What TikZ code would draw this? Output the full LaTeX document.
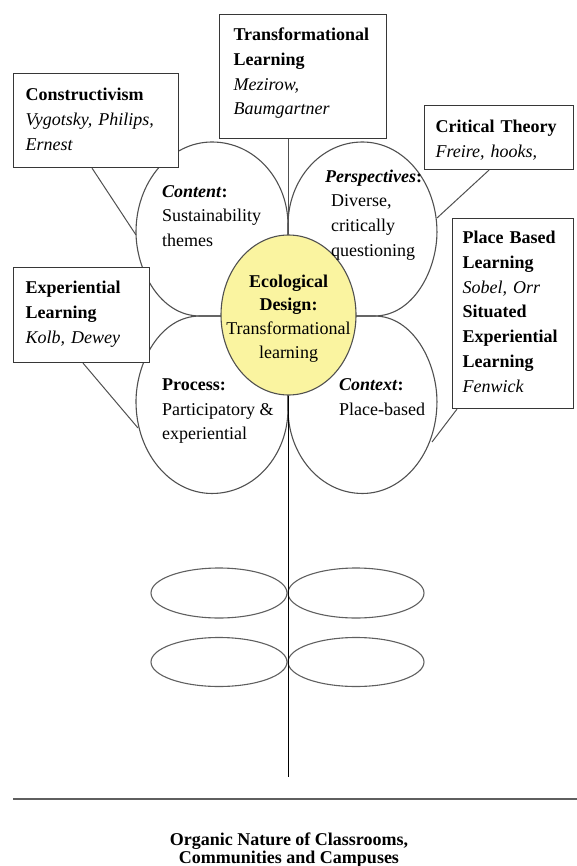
\documentclass[tikz,border=0pt]{standalone}
\usepackage{fontspec}
\setmainfont{Liberation Serif}
\usetikzlibrary{shapes.geometric,calc}
\definecolor{petalgray}{RGB}{80,80,80}
\definecolor{boxgray}{RGB}{55,55,55}
\definecolor{leafgray}{RGB}{95,95,95}
\definecolor{ecoyellow}{RGB}{250,244,160}
\newcommand{\txtfont}{\fontsize{18}{24.8}\selectfont}
\newcommand{\bxtop}[1]{\rule{0pt}{#1pt}}
\newcommand{\bxbot}[1]{\rule[-#1pt]{0pt}{#1pt}}
\begin{document}
\begin{tikzpicture}[x=1pt,y=-1pt,
  petalline/.style={draw=petalgray,line width=1.1pt},
  petal/.pic={\draw[petalline] (0,0) -- (-88,0) .. controls (-128,0) and (-152,-46) .. (-152,-84) .. controls (-152,-134) and (-118,-174) .. (-76,-174) .. controls (-33,-174) and (0,-136) .. (0,-91) -- cycle;},
  tbox/.style={draw=boxgray,fill=white,line width=1.1pt,anchor=north west,inner ysep=0pt,align=left,font=\txtfont},
  ptext/.style={anchor=north west,inner sep=0pt,align=left,font=\txtfont},
  conn/.style={draw=petalgray,line width=1pt},
  leaf/.style={ellipse,draw=leafgray,line width=1.1pt,minimum width=136pt,minimum height=50pt,inner sep=0pt},
  stemline/.style={draw=black,line width=1.8pt}
]
\useasboundingbox (0,0) rectangle (577,866);

% petals
\pic at (288,316) {petal};
\pic[xscale=-0.98] at (288,316) {petal};
\pic[yscale=-1.02] at (288,316) {petal};
\pic[xscale=-0.98,yscale=-1.02] at (288,316) {petal};

% centre
\node[ellipse,draw=petalgray,fill=ecoyellow,line width=1.1pt,minimum width=135pt,minimum height=160pt,inner sep=0pt] (eco) at (288.5,315) {};
\node[font=\fontsize{18}{23.7}\selectfont,align=center,anchor=north,inner sep=0pt] (ecotext) at (288.5,273) {\bxtop{14}\textbf{Ecological}\\\textbf{Design:}\\Transformational\\learning};

% petal texts
\node[ptext] (content) at (162,183) {\bxtop{14}\textbf{\textit{Content}:}\\Sustainability\\themes};
\node[ptext] (persp) at (325,168) {\bxtop{14}\textbf{\textit{Perspectives}:}\\\hspace*{6pt}Diverse,\\\hspace*{6pt}critically\\\hspace*{6pt}questioning};
\node[ptext] (process) at (162,376) {\bxtop{14}\textbf{Process:}\\Participatory \&\\experiential};
\node[ptext] (context) at (339,376) {\bxtop{14}\textbf{\textit{Context}:}\\Place-based};

% boxes
\node[tbox,inner xsep=12pt,text width=141pt] (cons) at (13,73) {\bxtop{27}\textbf{Constructivism}\\\textit{Vygotsky, Philips,}\\\textit{Ernest}\bxbot{17.4}};
\node[tbox,inner xsep=14pt,text width=139pt] (trans) at (219,14) {\bxtop{26}\textbf{Transformational}\\\textbf{Learning}\\\textit{Mezirow,}\\\textit{Baumgartner}\bxbot{23.6}};
\node[tbox,inner xsep=11pt,text width=127pt] (crit) at (424,105) {\bxtop{27}\textbf{Critical Theory}\\\textit{Freire, hooks,}\bxbot{12.2}};
\node[tbox,inner xsep=10pt,text width=101pt] (place) at (452,218) {\bxtop{25}\textbf{Place Based}\\\textbf{Learning}\\\textit{Sobel, Orr}\\\textbf{Situated}\\\textbf{Experiential}\\\textbf{Learning}\\\textit{Fenwick}\bxbot{16.2}};
\node[tbox,inner xsep=12pt,text width=112pt] (exp) at (13,267) {\bxtop{26}\textbf{Experiential}\\\textbf{Learning}\\\textit{Kolb, Dewey}\bxbot{19.4}};

% connectors
\coordinate (consEnd) at (136,235);
\coordinate (critEnd) at (437,218);
\coordinate (placeEnd) at (432,442);
\coordinate (expEnd) at (138,428);
\draw[conn] ($(cons.south west)+(79,0)$) -- (consEnd);
\draw[conn] ($(crit.south west)+(65,0)$) -- (critEnd);
\draw[conn] ($(place.south west)+(5,0)$) -- (placeEnd);
\draw[conn] ($(exp.south west)+(70,0)$) -- (expEnd);
\draw[conn] (trans.south -| eco.north) -- (eco.north);

% leaves and stem
\node[leaf] (leafA) at (219,593) {};
\node[leaf] (leafB) at (356,593) {};
\node[leaf,minimum height=49pt] (leafC) at (219,662) {};
\node[leaf,minimum height=49pt] (leafD) at (356,662) {};
\coordinate (stemEnd) at (288.5,777);
\draw[stemline] (eco.south) -- (stemEnd);

% ground and caption
\coordinate (groundL) at (13,799);
\coordinate (groundR) at (577,799);
\draw[draw=leafgray,line width=1.3pt] (groundL) -- (groundR);
\node[font=\fontsize{18}{18}\selectfont\bfseries,align=center,anchor=north,inner sep=0pt] (caption) at (289,831) {\bxtop{14}Organic Nature of Classrooms,\\Communities and Campuses};
\end{tikzpicture}
\end{document}
